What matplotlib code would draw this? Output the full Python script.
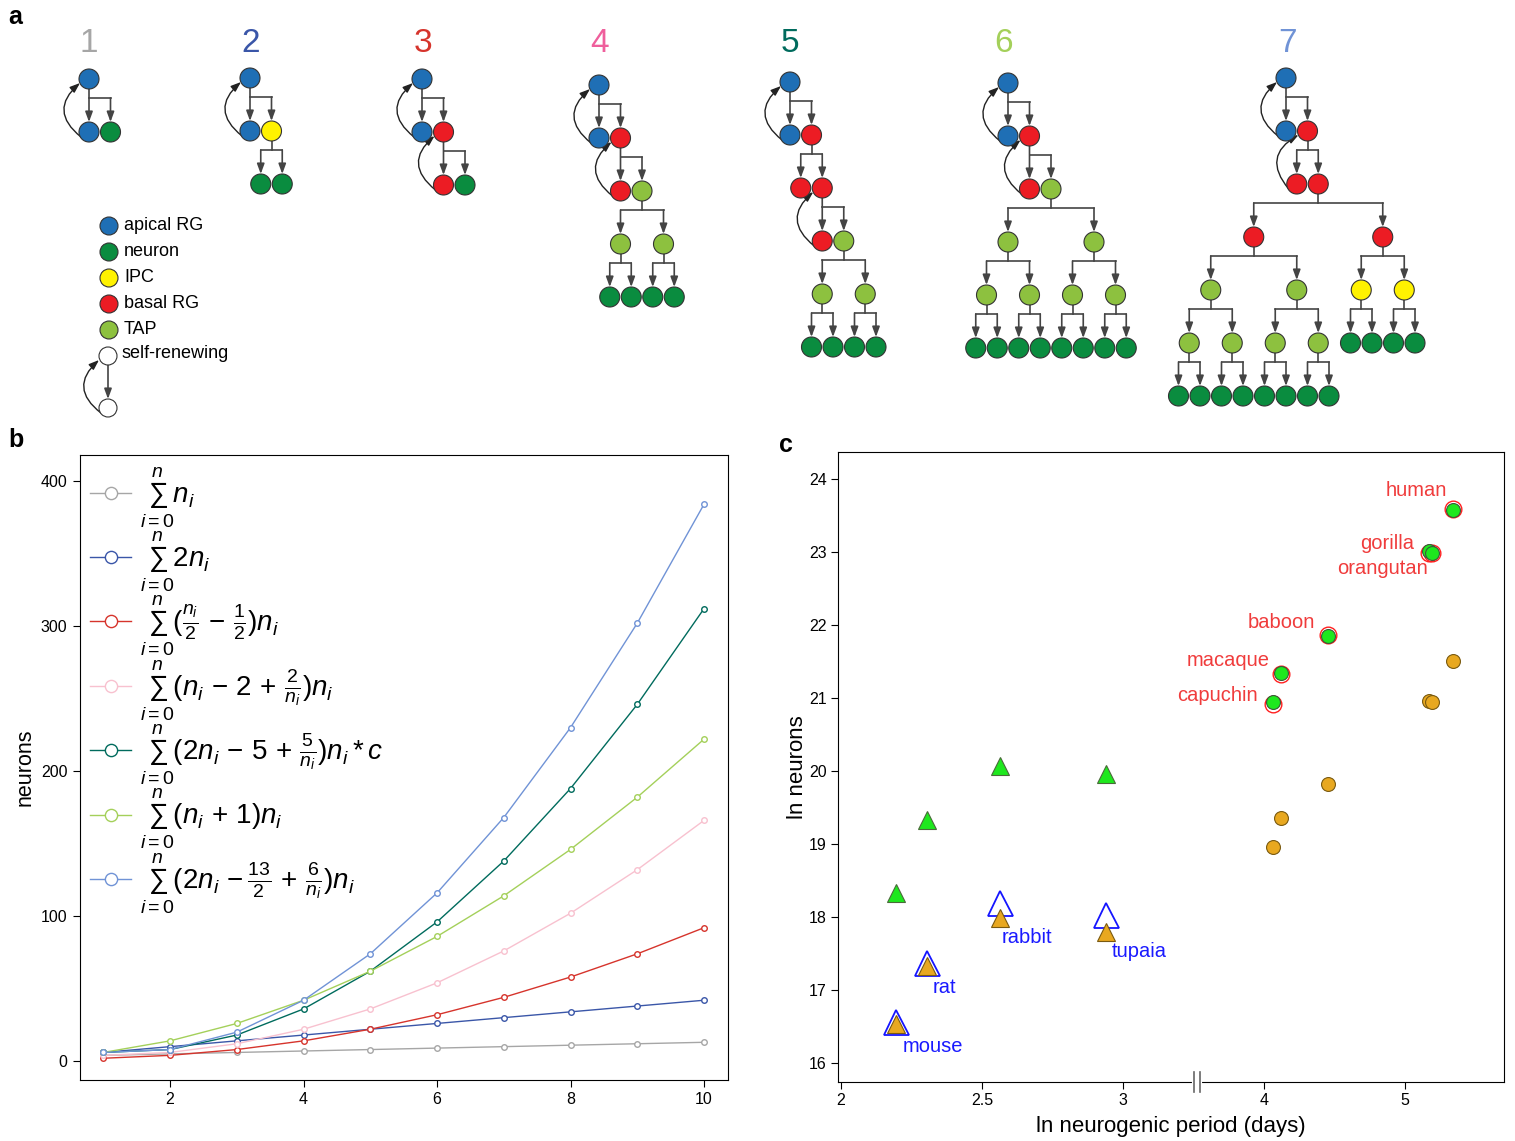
import numpy as np
import matplotlib.pyplot as plt
import matplotlib.transforms as mtransforms
from matplotlib.patches import Circle, FancyArrowPatch

plt.rcParams['font.family'] = ['Liberation Sans', 'DejaVu Sans']
plt.rcParams['mathtext.fontset'] = 'custom'
plt.rcParams['mathtext.rm'] = 'Liberation Sans'
plt.rcParams['mathtext.it'] = 'Liberation Sans:italic'
plt.rcParams['mathtext.bf'] = 'Liberation Sans:bold'

W, H = 1515, 1141

# ---------------- panel a: lineage trees ----------------
cell_colors = {'A': '#1f6fb5', 'N': '#0a8c3f', 'I': '#fff200',
               'B': '#ec1c24', 'T': '#8dc13f', 'W': 'white'}
legend_keys = ['A', 'N', 'I', 'B', 'T']
legend_names = ['apical RG', 'neuron', 'IPC', 'basal RG', 'TAP']


def S(c, other):
    # self-renewing division, copy stays below the parent
    return {'c': c, 'mode': 'S', 'kids': [c, other], 'renew': True}


def D(c, a, b, renew=False):
    return {'c': c, 'mode': 'D', 'kids': [a, b], 'renew': renew}


T2 = D('T', 'N', 'N')
T4 = D('T', T2, T2)
I2 = D('I', 'N', 'N')
trees = [
    S('A', 'N'),
    S('A', I2),
    S('A', S('B', 'N')),
    S('A', S('B', T4)),
    S('A', D('B', 'B', S('B', T4))),
    S('A', S('B', D('T', T4, T4))),
    S('A', D('B', 'B', D('B', D('B', T4, T4), D('B', I2, I2)), renew=True)),
]
tree_labels = ['1', '2', '3', '4', '5', '6', '7']
tree_label_colors = ['#a6a6a6', '#3a56a8', '#d6342c', '#ef5f9c',
                     '#006b5d', '#a4d05a', '#7093d6']
tree_roots = [(89, 79), (250, 78), (422, 79), (599, 85), (790, 82),
              (1008, 83), (1286, 78)]
label_x = [89, 251, 423, 600, 790, 1004, 1288]

# ---------------- panel b data ----------------
n_vals = np.arange(1, 11)
s_gray = [4, 5, 6, 7, 8, 9, 10, 11, 12, 13]
s_blue = [6, 10, 14, 18, 22, 26, 30, 34, 38, 42]
s_red = [2, 4, 8, 14, 22, 32, 44, 58, 74, 92]
s_pink = [4, 6, 12, 22, 36, 54, 76, 102, 132, 166]
s_teal = [6, 8, 18, 36, 62, 96, 138, 188, 246, 312]
s_lgreen = [6, 14, 26, 42, 62, 86, 114, 146, 182, 222]
s_lblue = [6, 8, 20, 42, 74, 116, 168, 230, 302, 384]
line_colors = ['#a6a6a6', '#3a56a8', '#d6342c', '#f8c1cf',
               '#006b5d', '#a4d05a', '#7093d6']
SUM = r'\sum_{i=0}^{n}'
labels_b = [
    '$' + SUM + r'n_i$',
    '$' + SUM + r'2n_i$',
    '$' + SUM + r'(\frac{n_i}{2}\,-\,\frac{1}{2})n_i$',
    '$' + SUM + r'(n_i\,-\,2\,+\,\frac{2}{n_i})n_i$',
    '$' + SUM + r'(2n_i\,-\,5\,+\,\frac{5}{n_i})n_i * c$',
    '$' + SUM + r'(n_i\,+\,1)n_i$',
    '$' + SUM + r'(2n_i\,-\frac{13}{2}\,+\,\frac{6}{n_i})n_i$',
]

# ---------------- panel c data ----------------
primates = ['human', 'gorilla', 'orangutan', 'baboon', 'macaque', 'capuchin']
prim_x = [5.34, 5.17, 5.19, 4.45, 4.12, 4.06]
prim_y = [23.58, 23.01, 22.99, 21.85, 21.34, 20.95]
prim_fit_y = [23.59, 22.99, 22.98, 21.86, 21.33, 20.92]
prim_orange_y = [21.51, 20.96, 20.94, 19.82, 19.36, 18.96]
prim_off = [(-6, 19), (-15, 8), (-4, -16), (-13, 13), (-11, 13), (-15, 6)]

others = ['mouse', 'rat', 'rabbit', 'tupaia']
oth_x = [2.195, 2.305, 2.564, 2.94]
oth_green_y = [18.33, 19.33, 20.07, 19.96]
oth_orange_y = [16.53, 17.33, 17.99, 17.79]
oth_blue_y = [16.56, 17.37, 18.19, 18.03]
oth_off = [(7, -22), (5, -22), (1, -20), (5, -19)]

fig = plt.figure(figsize=(W / 100, H / 100), dpi=100)

ax_a = fig.add_axes([0, 0, 1, 1])
ax_a.set_xlim(0, W)
ax_a.set_ylim(H, 0)
ax_a.axis('off')

R = 10
DX = 21.5
DY = 53
line_col = '#444444'


def node(x, y, c, r=R):
    ax_a.add_patch(Circle((x, y), r, fc=cell_colors[c], ec='#333333', lw=0.8, zorder=3))


def down_arrow(x, y0, y1):
    ax_a.add_patch(FancyArrowPatch((x, y0), (x, y1), arrowstyle='-|>,head_length=0.6,head_width=0.22',
                                   mutation_scale=10, color=line_col, lw=1.2,
                                   shrinkA=0, shrinkB=0, zorder=2))


def renew_arrow(x0, y0, x1, y1):
    ax_a.add_patch(FancyArrowPatch((x0 - 8, y0 + 5), (x1 - 9, y1 + 4),
                                   connectionstyle='arc3,rad=-0.6',
                                   arrowstyle='-|>,head_length=0.6,head_width=0.22',
                                   mutation_scale=10, color='#222222', lw=1.0,
                                   shrinkA=0, shrinkB=0, zorder=2))


def width(t):
    if isinstance(t, str) or t['mode'] == 'S' or t['renew']:
        return 1
    return width(t['kids'][0]) + width(t['kids'][1])


def draw_tree(t, x, y):
    c = t if isinstance(t, str) else t['c']
    node(x, y, c)
    if isinstance(t, str):
        return
    a, b = t['kids']
    yc = y + DY
    ym = y + 19
    if t['mode'] == 'S':
        xa, xb = x, x + DX
        down_arrow(x, y + R, yc - R)
    else:
        sep = 1 if t['renew'] else (width(a) + width(b)) / 2
        xa, xb = x - sep * DX / 2, x + sep * DX / 2
        ax_a.plot([x, x], [y + R, ym], color=line_col, lw=1.2)
        down_arrow(xa, ym, yc - R)
    ax_a.plot([xa, xb], [ym, ym], color=line_col, lw=1.2)
    down_arrow(xb, ym, yc - R)
    if t['renew']:
        renew_arrow(xa, yc, x, y)
    draw_tree(a, xa, yc)
    draw_tree(b, xb, yc)


for t, (rx, ry), lab, lc, lx in zip(trees, tree_roots, tree_labels, tree_label_colors, label_x):
    draw_tree(t, rx, ry)
    ax_a.text(lx, 52, lab, color=lc, fontsize=24, ha='center', va='baseline')

for i, (k, name) in enumerate(zip(legend_keys, legend_names)):
    yy = 226 + 26 * i
    node(109, yy, k, r=9)
    ax_a.text(124, yy, name, fontsize=13, va='center')
node(108, 356, 'W', r=9)
node(108, 408, 'W', r=9)
down_arrow(108, 365, 399)
renew_arrow(109, 408, 108, 356)
ax_a.text(122, 353, 'self-renewing', fontsize=13, va='center')

ax_a.text(8, 24, 'a', fontsize=18, fontweight='bold', va='baseline')
ax_a.text(8, 447, 'b', fontsize=18, fontweight='bold', va='baseline')
ax_a.text(779, 452, 'c', fontsize=18, fontweight='bold', va='baseline')

# ---------------- panel b ----------------
ax_b = fig.add_axes([80 / W, 1 - 1080 / H, 648 / W, 625 / H])
series_b = [s_gray, s_blue, s_red, s_pink, s_teal, s_lgreen, s_lblue]
for vals, col, lab in zip(series_b, line_colors, labels_b):
    ax_b.plot(n_vals, vals, '-o', color=col, lw=1.0, ms=4, mfc='white', mew=1, label=lab)
ax_b.set_xlim(0.65, 10.36)
ax_b.set_ylim(-13, 418)
ax_b.set_xticks([2, 4, 6, 8, 10])
ax_b.set_yticks([0, 100, 200, 300, 400])
ax_b.tick_params(labelsize=11.5, length=5, direction='out', pad=4)
ax_b.set_ylabel('neurons', fontsize=15.5, labelpad=4)
ax_b.legend(loc='upper left', frameon=False, fontsize=20, handlelength=1.5,
            handletextpad=0.3, borderpad=0.35, borderaxespad=0.0, labelspacing=-0.02,
            markerscale=2.2)

# ---------------- panel c ----------------
ax_c = fig.add_axes([838 / W, 1 - 1082 / H, 666 / W, 630 / H])
brk_x = [0, 3.25, 3.545, 10]
brk_u = [0, 3.25, 3.2725, 6.5]
ax_c.set_xscale('function', functions=(lambda v: np.interp(v, brk_x, brk_u),
                                       lambda u: np.interp(u, brk_u, brk_x)))

ax_c.plot(prim_x, prim_fit_y, 'o', ms=12, mfc='none', mec='#ff2020', mew=1.0, zorder=3)
ax_c.plot(prim_x, prim_y, 'o', ms=10, mfc='#1ee81e', mec='#3a5a3a', mew=0.8, zorder=4)
ax_c.plot(prim_x, prim_orange_y, 'o', ms=10, mfc='#e8a820', mec='#7a5a10', mew=0.8, zorder=4)
ax_c.plot(oth_x, oth_green_y, '^', ms=13, mfc='#1ee81e', mec='#4a6a3a', mew=0.8, zorder=4)
ax_c.plot(oth_x, oth_blue_y, '^', ms=18, mfc='white', mec='#1515ff', mew=1.3, zorder=3)
ax_c.plot(oth_x, oth_orange_y, '^', ms=13, mfc='#e8a820', mec='#7a5a10', mew=0.8, zorder=4)

for name, x, y, off in zip(primates, prim_x, prim_y, prim_off):
    ax_c.annotate(name, (x, y), xytext=off, textcoords='offset pixels',
                  ha='right', va='center', color='#f03c3c', fontsize=14.5)
for name, x, y, off in zip(others, oth_x, oth_orange_y, oth_off):
    ax_c.annotate(name, (x, y), xytext=off, textcoords='offset pixels',
                  ha='left', va='center', color='#1a1aff', fontsize=14.5)

ax_c.set_xlim(1.989, 5.70)
ax_c.set_ylim(15.74, 24.37)
ax_c.set_xticks([2, 2.5, 3, 4, 5])
ax_c.set_xticklabels(['2', '2.5', '3', '4', '5'])
ax_c.set_yticks(range(16, 25))
ax_c.minorticks_off()
ax_c.tick_params(labelsize=11.5, length=5, direction='out', pad=3)
ax_c.set_xlabel('ln neurogenic period (days)', fontsize=16, labelpad=6)
ax_c.set_ylabel('ln neurons', fontsize=16, labelpad=1)

# axis break marks
tr = mtransforms.blended_transform_factory(ax_c.transData, ax_c.transAxes)
ax_c.plot([brk_x[1], brk_x[2]], [0, 0], color='white', lw=3, transform=tr, clip_on=False, zorder=6)
for bx in brk_x[1:3]:
    ax_c.plot([bx, bx], [-0.016, 0.016], color='#666666', lw=1.2, transform=tr,
              clip_on=False, zorder=7)

plt.savefig('out.png', dpi=100)
